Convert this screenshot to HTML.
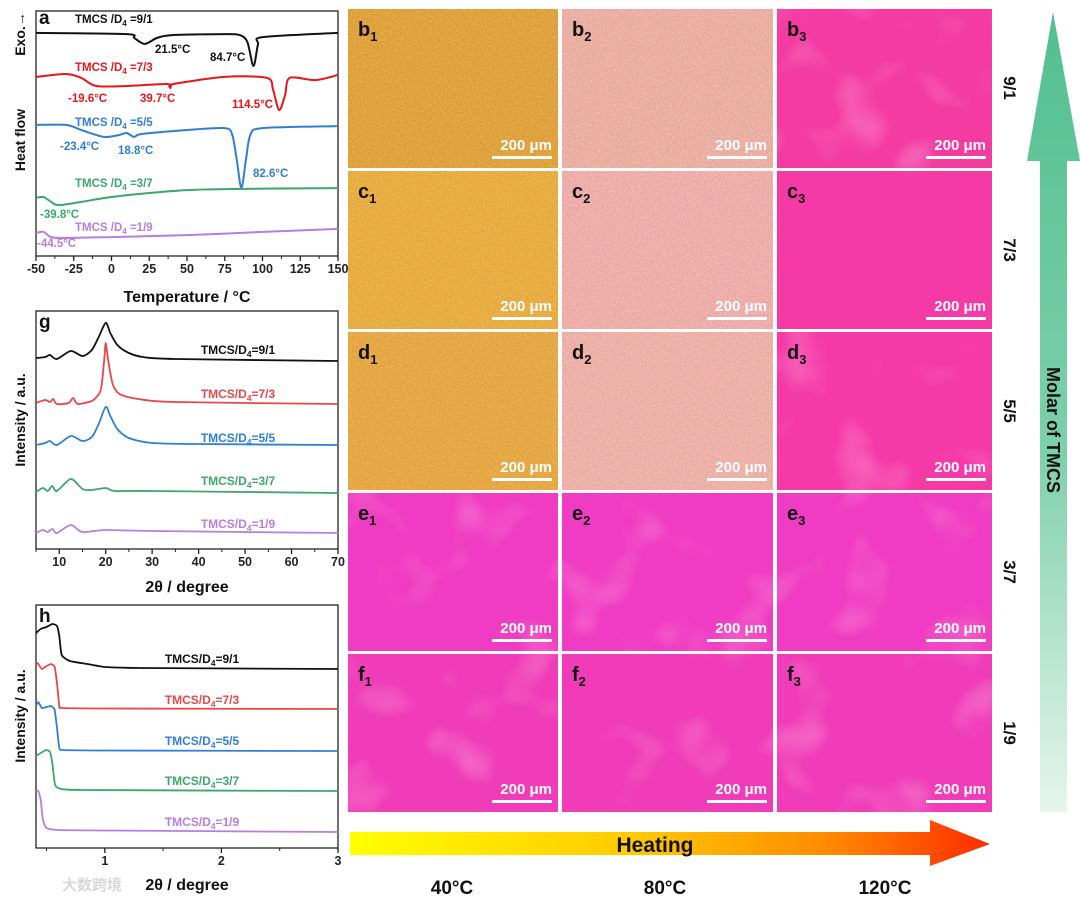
<!DOCTYPE html>
<html><head><meta charset="utf-8">
<style>
html,body{margin:0;padding:0;background:#fff;}
svg{display:block;font-family:"Liberation Sans","Noto Sans CJK SC",sans-serif;font-weight:bold;}
</style></head>
<body>
<svg id="fig" width="1080" height="902" viewBox="0 0 1080 902" xmlns="http://www.w3.org/2000/svg">
<defs>
  <filter id="grain" x="0" y="0" width="100%" height="100%">
    <feTurbulence type="fractalNoise" baseFrequency="0.55" numOctaves="2" seed="3"/>
    <feColorMatrix type="matrix" values="0 0 0 0 1  0 0 0 0 0.95  0 0 0 0 0.4  0 0 0 -1.6 1.05"/>
  </filter>
  <filter id="grain2" x="0" y="0" width="100%" height="100%">
    <feTurbulence type="fractalNoise" baseFrequency="0.5" numOctaves="2" seed="7"/>
    <feColorMatrix type="matrix" values="0 0 0 0 0.95  0 0 0 0 0.3  0 0 0 0 0.55  0 0 0 -1.8 1.1"/>
  </filter>
  <filter id="blob" x="0" y="0" width="100%" height="100%">
    <feTurbulence type="fractalNoise" baseFrequency="0.018" numOctaves="2" seed="11"/>
    <feColorMatrix type="matrix" values="0 0 0 0 1  0 0 0 0 0.55  0 0 0 0 0.8  0 0 0 3 -1.7"/>
  </filter>
  <linearGradient id="heatGrad" x1="0" x2="1" y1="0" y2="0">
    <stop offset="0" stop-color="#ffff00"/><stop offset="0.45" stop-color="#ffc800"/>
    <stop offset="0.75" stop-color="#ff8a00"/><stop offset="1" stop-color="#ff2a00"/>
  </linearGradient>
  <linearGradient id="tmcsGrad" x1="0" x2="0" y1="0" y2="1">
    <stop offset="0" stop-color="#52bf91"/><stop offset="0.55" stop-color="#7dd0ab"/>
    <stop offset="1" stop-color="#e6f5ee"/>
  </linearGradient>
</defs>
<g id="panelA"></g>
<g id="panelG"></g>
<g id="panelH"></g>
<g id="grid"></g>
<g id="arrows"></g>
</svg>
<script>
// ---------- Panel a (DSC) data ----------
const dscLabels = ["TMCS /D4 =9/1","TMCS /D4 =7/3","TMCS /D4 =5/5","TMCS /D4 =3/7","TMCS /D4 =1/9"];
const dscColors = ["#111111","#e8161b","#2f7fd6","#3aa86b","#b77de0"];
const dscBlack = [[-50,90.7],[10,90.2],[15,88.6],[22,86.2],[30,88.6],[40,89.8],[75,90.2],[85,89.8],[90,87],[94,77.2],[97,86],[100,89],[150,90.7]];
const dscRed = [[-50,72.8],[-30,74],[-20,72.4],[-10,69.1],[10,69.1],[37,69.9],[39,68.3],[41,69.9],[75,72.8],[103,72.4],[107,67.5],[111,59.3],[115,65.4],[118,72.4],[135,71.5],[150,73.6]];
const dscBlue = [[-50,53.3],[-30,53.3],[-20,51.2],[-5,48.4],[5,49.2],[10,50],[15,48.4],[20,49.6],[50,51.2],[75,52],[80,49.2],[83,39],[86,27.6],[89,39],[92,49.2],[100,52],[150,52.8]];
const dscGreen = [[-50,23.6],[-45,24],[-40,22],[-35,20.7],[-20,22],[0,24],[25,25.6],[50,26.8],[75,27.2],[150,27.6]];
const dscPurple = [[-50,9.3],[-45,9.8],[-40,7.7],[-30,7.3],[0,7.7],[50,8.5],[100,9.8],[150,11]];
const dscTicks = [-50,-25,0,25,50,75,100,125,150];
const dscPeaks = [["21.5°C",155,53,0],["84.7°C",210,61,0],["-19.6°C",68,102,1],["39.7°C",140,102,1],["114.5°C",232,108,1],["-23.4°C",60,150,2],["18.8°C",118,154,2],["82.6°C",253,177,2],["-39.8°C",40,218,3],["-44.5°C",37,247,4]];

// ---------- Panel g (XRD) data ----------
const xrdLabels = ["9/1","7/3","5/5","3/7","1/9"];
const xrd91 = [[5,191],[7,192],[8,194],[9.5,190],[12.5,198],[15,193],[17,199],[18.5,212],[20,226],[21,216],[22.5,204],[25,196],[28,192],[35,190],[70,188]];
const xrd73 = [[5,146],[7,149],[8,147],[8.7,150],[9.5,145],[12,146],[13,151],[14,145],[17,148],[18,152],[19,160],[19.7,190],[20,206],[20.5,190],[21.5,165],[23,155],[27,150],[35,147],[70,145]];
const xrd55 = [[5,104],[7,106],[8,108],[9.5,104],[12.5,113],[15,108],[17,112],[18.5,125],[20,142],[21,133],[22.5,120],[25,111],[30,106],[40,105],[70,104]];
const xrd37 = [[5,57],[6.5,61],[7.5,58],[8.5,63],[9.5,58],[12.5,70],[15,60],[17,59],[20,61],[22,58],[30,58],[70,56]];
const xrd19 = [[5,16],[6.5,19],[7.5,17],[8.5,20],[9.5,16],[12.5,24],[15,17],[20,19],[30,18],[70,16]];
const xrdTicks = [10,20,30,40,50,60,70];

// ---------- Panel h (SAXS) data ----------
const sax91 = [[0.41,215],[0.45,219],[0.5,221],[0.55,224],[0.59,222],[0.61,212],[0.63,193],[0.7,187],[0.85,184],[1.0,181],[1.3,180],[3,179]];
const sax73 = [[0.41,186],[0.43,184],[0.46,179],[0.5,182],[0.54,184],[0.57,181],[0.59,165],[0.61,142],[0.63,140],[1,139.5],[3,139]];
const sax55 = [[0.41,142],[0.43,146],[0.46,140],[0.5,141],[0.54,142],[0.57,138],[0.59,120],[0.61,100],[0.64,98],[1,97.5],[3,97]];
const sax37 = [[0.41,92],[0.45,95],[0.5,98],[0.53,96],[0.55,85],[0.57,65],[0.6,60],[0.8,58],[3,57]];
const sax19 = [[0.41,58],[0.43,57],[0.45,48],[0.47,28],[0.5,20],[0.6,18],[1,17.5],[3,16]];
const saxTicks = [1,2,3];

// ---------- Micrographs ----------
const rowLetters = ["b","c","d","e","f"];
const ratioLabels = ["9/1","7/3","5/5","3/7","1/9"];
const tempLabels = ["40°C","80°C","120°C"];

const NS="http://www.w3.org/2000/svg";
function mk(tag,attrs,parent,text){const e=document.createElementNS(NS,tag);for(const k in attrs)e.setAttribute(k,attrs[k]);if(text!==undefined)e.textContent=text;parent.appendChild(e);return e;}
function linear(d0,d1,r0,r1){return v=>r0+(v-d0)/(d1-d0)*(r1-r0);}
function smoothPath(pts,sx,sy,k){
  k=k||8;
  const p=pts.map(q=>[sx(q[0]),sy(q[1])]);
  let d="M"+p[0][0].toFixed(1)+","+p[0][1].toFixed(1);
  for(let i=0;i<p.length-1;i++){
    const p0=p[i-1]||p[i],p1=p[i],p2=p[i+1],p3=p[i+2]||p2;
    const c1=[p1[0]+(p2[0]-p0[0])/k,p1[1]+(p2[1]-p0[1])/k];
    const c2=[p2[0]-(p3[0]-p1[0])/k,p2[1]-(p3[1]-p1[1])/k];
    d+=" C"+c1[0].toFixed(1)+","+c1[1].toFixed(1)+" "+c2[0].toFixed(1)+","+c2[1].toFixed(1)+" "+p2[0].toFixed(1)+","+p2[1].toFixed(1);
  }
  return d;
}
function tmcsLabel(g,x,y,txt,color,size,anchor){
  const t=mk("text",{x:x,y:y,fill:color,"font-size":size,"text-anchor":anchor||"start"},g);
  const i=txt.indexOf("D4");
  mk("tspan",{},t,txt.slice(0,i+1));
  mk("tspan",{"font-size":size*0.7,dy:3},t,"4");
  mk("tspan",{dy:-3},t,txt.slice(i+2));
  return t;
}
function box(g,x0,y0,x1,y1){mk("rect",{x:x0,y:y0,width:x1-x0,height:y1-y0,fill:"none",stroke:"#222","stroke-width":1.3},g);}

// ---- Panel a ----
(function(){
  const g=document.getElementById("panelA");
  const X0=36,X1=338,Y0=11,Y1=256;
  const sx=linear(-50,150,X0,X1), sy=linear(0,100,Y1,Y1-246);
  box(g,X0,Y0,X1,Y1);
  const series=[dscBlack,dscRed,dscBlue,dscGreen,dscPurple];
  series.forEach((s,i)=>{
    const p=mk("path",{d:smoothPath(s,sx,sy,7),fill:"none",stroke:dscColors[i],"stroke-width":2},g);
    
    
  });
  const ly=[23,71,126,187,231];
  dscLabels.forEach((l,i)=>{const t=tmcsLabel(g,75,ly[i],l,dscColors[i],11.5);
    });
  dscPeaks.forEach(pk=>{const t=mk("text",{x:pk[1],y:pk[2],fill:dscColors[pk[3]],"font-size":11.5},g,pk[0]);
    });
  dscTicks.forEach(v=>{
    mk("line",{x1:sx(v),x2:sx(v),y1:Y1,y2:Y1+5,stroke:"#222","stroke-width":1.3},g);
    if(v<150)mk("line",{x1:sx(v+12.5),x2:sx(v+12.5),y1:Y1,y2:Y1+3,stroke:"#222","stroke-width":1},g);
    const t=mk("text",{x:sx(v),y:Y1+17,"font-size":12.5,"text-anchor":"middle",fill:"#222"},g,v);
    
  });
  mk("text",{x:187,y:302,"font-size":16,"text-anchor":"middle",fill:"#111",},g,"Temperature / °C");
  mk("text",{x:0,y:0,"font-size":14,"text-anchor":"middle",fill:"#111",transform:"translate(25,140) rotate(-90)",},g,"Heat flow");
  mk("text",{x:0,y:0,"font-size":14,"text-anchor":"middle",fill:"#111",transform:"translate(25,34) rotate(-90)",},g,"Exo.→");
  mk("text",{x:39,y:24,"font-size":19,fill:"#111",},g,"a");
})();

// ---- Panel g ----
(function(){
  const g=document.getElementById("panelG");
  const X0=36,X1=338,Y0=311,Y1=549;
  const sx=linear(5,70,X0,X1), sy=v=>Y1-v;
  box(g,X0,Y0,X1,Y1);
  const series=[xrd91,xrd73,xrd55,xrd37,xrd19];
  const cols=["#111","#e8474a","#2f7fd6","#3aa86b","#b77de0"];
  series.forEach((s,i)=>{
    const p=mk("path",{d:smoothPath(s,sx,sy,7),fill:"none",stroke:cols[i],"stroke-width":1.8},g);
    
    
  });
  const ly=[354,398,442,485,528];
  xrdLabels.forEach((l,i)=>{const t=tmcsLabel(g,238,ly[i],"TMCS/D4="+l,cols[i],12,"middle");
    });
  xrdTicks.forEach(v=>{
    mk("line",{x1:sx(v),x2:sx(v),y1:Y1,y2:Y1+5,stroke:"#222","stroke-width":1.3},g);
    mk("line",{x1:sx(v-5),x2:sx(v-5),y1:Y1,y2:Y1+3,stroke:"#222","stroke-width":1},g);
    const t=mk("text",{x:sx(v),y:Y1+17,"font-size":12.5,"text-anchor":"middle",fill:"#222"},g,v);
    
  });
  mk("text",{x:187,y:592,"font-size":16,"text-anchor":"middle",fill:"#111",},g,"2θ / degree");
  mk("text",{x:0,y:0,"font-size":14,"text-anchor":"middle",fill:"#111",transform:"translate(25,420) rotate(-90)",},g,"Intensity / a.u.");
  mk("text",{x:39,y:328,"font-size":19,fill:"#111",},g,"g");
})();

// ---- Panel h ----
(function(){
  const g=document.getElementById("panelH");
  const X0=36,X1=338,Y0=605,Y1=848;
  const sx=linear(0.41,3,X0,X1), sy=v=>Y1-v;
  box(g,X0,Y0,X1,Y1);
  const series=[sax91,sax73,sax55,sax37,sax19];
  const cols=["#111","#e8474a","#2f7fd6","#3aa86b","#b77de0"];
  series.forEach((s,i)=>{
    const p=mk("path",{d:smoothPath(s,sx,sy,12),fill:"none",stroke:cols[i],"stroke-width":1.8},g);
    
    
  });
  const ly=[663,704,745,785,826];
  xrdLabels.forEach((l,i)=>{const t=tmcsLabel(g,202,ly[i],"TMCS/D4="+l,cols[i],12,"middle");
    });
  saxTicks.forEach(v=>{
    mk("line",{x1:sx(v),x2:sx(v),y1:Y1,y2:Y1+5,stroke:"#222","stroke-width":1.3},g);
    mk("line",{x1:sx(v-0.5),x2:sx(v-0.5),y1:Y1,y2:Y1+3,stroke:"#222","stroke-width":1},g);
    const t=mk("text",{x:sx(v),y:Y1+17,"font-size":12.5,"text-anchor":"middle",fill:"#222"},g,v);
    
  });
  mk("text",{x:187,y:890,"font-size":16,"text-anchor":"middle",fill:"#111",},g,"2θ / degree");
  mk("text",{x:92,y:890,"font-size":15,"text-anchor":"middle",fill:"#d8d8d8",},g,"大数跨境");
  mk("text",{x:0,y:0,"font-size":14,"text-anchor":"middle",fill:"#111",transform:"translate(25,716) rotate(-90)",},g,"Intensity / a.u.");
  mk("text",{x:39,y:622,"font-size":19,fill:"#111",},g,"h");
})();

// ---- Micrograph grid ----
(function(){
  const g=document.getElementById("grid");
  const colsX=[[348,558],[562,773],[777,992]];
  const rowsY=[[9,168],[171,329],[332,490],[493,651],[654,812]];
  const base=[["#dc9a34","#e6a8a0","#f43ba2"],["#e6a63a","#eaa6a8","#f53aa6"],["#e3a13c","#e8aaa6","#f53aa8"],
              ["#f03cc2","#f03cc2","#f03cc2"],["#f03cb8","#f03cb8","#f03cb8"]];
  rowsY.forEach((ry,r)=>{
    colsX.forEach((cx,c)=>{
      const w=cx[1]-cx[0],h=ry[1]-ry[0];
      const cell=mk("g",{},g);
      
      
      mk("rect",{x:cx[0],y:ry[0],width:w,height:h,fill:base[r][c]},cell);
      if(r<3&&c<2){
        mk("rect",{x:cx[0],y:ry[0],width:w,height:h,filter:"url(#grain)",opacity:c===0?0.35:0.5},cell);
        if(c===1)mk("rect",{x:cx[0],y:ry[0],width:w,height:h,filter:"url(#grain2)",opacity:0.35},cell);
      } else if(!(r===1&&c===2)){
        mk("rect",{x:cx[0],y:ry[0],width:w,height:h,filter:"url(#blob)",opacity:0.35},cell);
      }
      const t=mk("text",{x:cx[0]+10,y:ry[0]+27,"font-size":20,fill:"#111"},cell);
      mk("tspan",{},t,rowLetters[r]);
      mk("tspan",{"font-size":13,dy:5},t,String(c+1));
      mk("text",{x:cx[1]-6,y:ry[1]-18,"font-size":15,fill:"#fff","text-anchor":"end"},cell,"200 μm");
      mk("rect",{x:cx[1]-66,y:ry[1]-12,width:60,height:3,fill:"#fff"},cell);
    });
  });
})();

// ---- Arrows ----
(function(){
  const g=document.getElementById("arrows");
  const a=mk("polygon",{points:"1040,812 1067,812 1067,161 1080,161 1053,12 1027,161 1040,161",fill:"url(#tmcsGrad)"},g);
  
  mk("text",{x:0,y:0,"font-size":18,fill:"#111","text-anchor":"middle",transform:"translate(1047,430) rotate(90)",},g,"Molar of TMCS");
  const ry=[88,250,411,572,733];
  ratioLabels.forEach((l,i)=>{const t=mk("text",{x:0,y:0,"font-size":17,fill:"#111","text-anchor":"middle",transform:"translate(1004,"+ry[i]+") rotate(90)"},g,l);
    });
  const h=mk("polygon",{points:"350,832 930,832 930,820 990,844 930,866 930,855 350,855",fill:"url(#heatGrad)"},g);
  
  mk("text",{x:655,y:852,"font-size":21,fill:"#111","text-anchor":"middle",},g,"Heating");
  const tx=[452,665,885];
  tempLabels.forEach((l,i)=>{const t=mk("text",{x:tx[i],y:894,"font-size":19,fill:"#111","text-anchor":"middle"},g,l);
    });
})();
</script>
</body></html>
